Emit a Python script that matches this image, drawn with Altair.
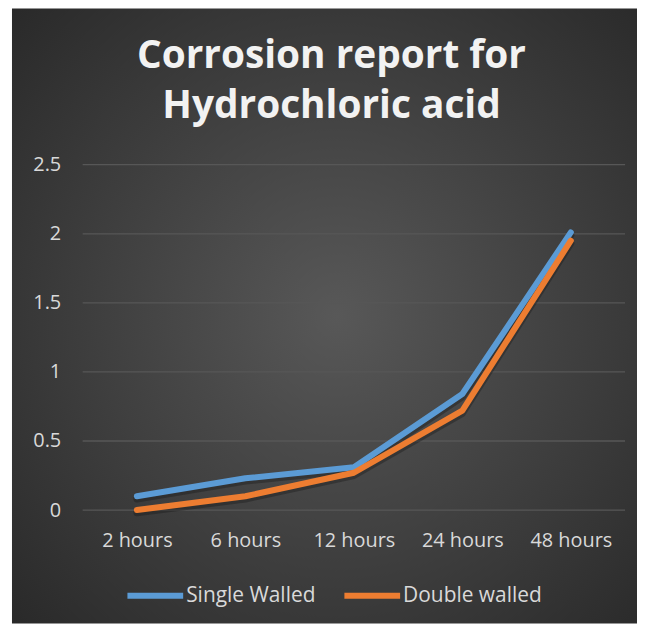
import altair as alt
import pandas as pd

title_lines = ["Corrosion report for", "Hydrochloric acid"]
categories = ["2 hours", "6 hours", "12 hours", "24 hours", "48 hours"]
single_walled = [0.10, 0.23, 0.31, 0.84, 2.01]
double_walled = [0.00, 0.10, 0.27, 0.72, 1.95]
series_names = ["Single Walled", "Double walled"]
series_colors = ["#5b9bd5", "#ed7d31"]
y_ticks = [0, 0.5, 1, 1.5, 2, 2.5]

rows = []
for i, c in enumerate(categories):
    rows.append({"time": c, "series": series_names[0], "value": single_walled[i], "order": i})
    rows.append({"time": c, "series": series_names[1], "value": double_walled[i], "order": i})
df = pd.DataFrame(rows)

W, H = 545, 347
FONT = "Open Sans"
yscale = alt.Scale(domain=[0, 2.5], nice=False)
xscale = alt.Scale(type="point", padding=0.5)

x_axis = alt.Axis(title=None, labelAngle=0, domain=False, ticks=False,
                  labelPadding=21, labelFontSize=20, labelColor="#d9d9d9",
                  labelFont=FONT, grid=False, zindex=1)
y_axis = alt.Axis(title=None, values=y_ticks, domain=False, grid=False,
                  ticks=False, labelPadding=22, labelFontSize=20,
                  labelColor="#d9d9d9", labelFont=FONT, zindex=1,
                  labelExpr="datum.value")

one = pd.DataFrame({"a": [0]})

bg = alt.Chart(one).mark_rect(
    fill={
        "gradient": "radial",
        "x1": 0.52, "y1": 0.5, "r1": 0,
        "x2": 0.52, "y2": 0.5, "r2": 0.75,
        "stops": [
            {"offset": 0, "color": "#585858"},
            {"offset": 1, "color": "#272727"},
        ],
    }
).encode(
    x=alt.value(-71), x2=alt.value(557), y=alt.value(-157), y2=alt.value(461)
)

def title_layer(text, ypos):
    return alt.Chart(one).mark_text(
        text=text, font=FONT, fontSize=39, fontWeight="bold", color="#f2f2f2",
        align="center", baseline="alphabetic"
    ).encode(x=alt.value(250), y=alt.value(ypos))

t1 = title_layer(title_lines[0], -97)
t2 = title_layer(title_lines[1], -47)

grid = alt.Chart(pd.DataFrame({"v": y_ticks})).mark_rule(
    color="#575757", strokeWidth=1.3
).encode(
    y=alt.Y("v:Q", scale=yscale, axis=y_axis), x=alt.value(0), x2=alt.value(W)
)

shadow = alt.Chart(df).mark_line(
    strokeWidth=7, color="#151515", opacity=0.35, strokeCap="round", strokeJoin="round"
).transform_calculate(
    sv="datum.value - 0.02"
).encode(
    x=alt.X("time:N", sort=categories, scale=xscale, axis=x_axis),
    y=alt.Y("sv:Q", scale=yscale, axis=y_axis),
    detail="series:N", order="order:Q"
)

lines = alt.Chart(df).mark_line(
    strokeWidth=6, strokeCap="round", strokeJoin="round"
).encode(
    x=alt.X("time:N", sort=categories, scale=xscale, axis=x_axis),
    y=alt.Y("value:Q", scale=yscale, axis=y_axis),
    color=alt.Color("series:N", sort=series_names,
                    scale=alt.Scale(domain=series_names, range=series_colors),
                    legend=alt.Legend(title=None, orient="none", direction="horizontal",
                                      legendX=42, legendY=402, symbolType="stroke",
                                      symbolSize=3136, symbolStrokeWidth=6,
                                      labelFontSize=21, labelColor="#d9d9d9",
                                      labelFont=FONT, labelOffset=0, columnPadding=17,
                                      padding=0)),
    order="order:Q"
)

chart = alt.layer(bg, t1, t2, grid, shadow, lines).properties(
    width=W, height=H,
    autosize=alt.AutoSizeParams(type="none"),
    padding={"left": 75, "top": 156, "right": 12, "bottom": 114},
).configure_view(stroke=None).configure(background="#ffffff")

chart.save("out.html", embed_options={"renderer": "svg", "actions": False})
